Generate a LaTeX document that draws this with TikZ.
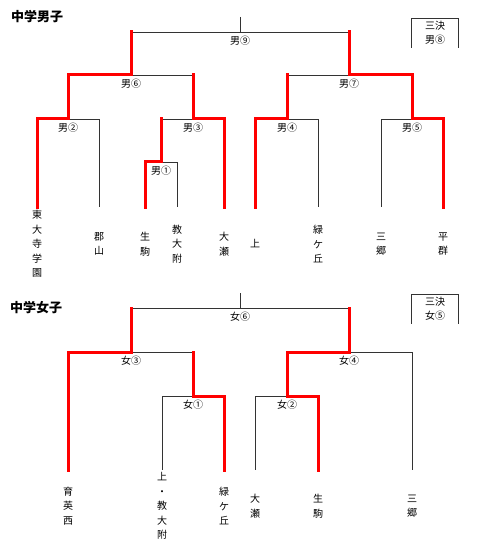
\documentclass[tikz,border=0pt]{standalone}
\usepackage{fontspec}
\setmainfont{Noto Sans CJK JP}
\usetikzlibrary{positioning}
\definecolor{winred}{HTML}{FF0000}
\definecolor{bracketgray}{HTML}{333333}

\begin{document}
\begin{tikzpicture}[x=1pt, y=-1pt,
    win/.style={draw=winred, line width=3pt, line cap=rect},
    lose/.style={draw=bracketgray, line width=0.9pt},
    lbl/.style={inner sep=0pt, font=\fontsize{10}{12}\selectfont},
    team/.style={inner sep=0pt, align=center, font=\fontsize{10}{14.5}\selectfont},
    heading/.style={anchor=west, inner sep=0pt, font=\bfseries\fontsize{13}{15}\selectfont},
    thirdbox/.style={inner sep=0pt, minimum width=46pt, minimum height=29pt, align=center, font=\fontsize{10}{14}\selectfont}]
  \useasboundingbox (0,0) rectangle (480,548);

  % ---------------- boys ----------------
  \node[heading] (tboys) at (11,17) {中学男子};

  \coordinate (b9top) at (240,17);
  \coordinate (b9) at (240,32);
  \coordinate (b6) at (131,75);
  \coordinate (b7) at (349,75);
  \coordinate (b2) at (68,119);
  \coordinate (b3) at (193,119);
  \coordinate (b4) at (287,119);
  \coordinate (b5) at (412,119);
  \coordinate (b1) at (161,162);

  \coordinate (btodai) at (37,207);
  \coordinate (bkori) at (99,207);
  \coordinate (bikoma) at (145,207);
  \coordinate (bkyo) at (177,207);
  \coordinate (boose) at (224,207);
  \coordinate (bue) at (255,207);
  \coordinate (bmido) at (318,207);
  \coordinate (bsato) at (381,207);
  \coordinate (bheg) at (443,207);

  % black arms
  \draw[lose] (b9top) -- (b9);
  \draw[lose] (b9) -- (b9 -| b6);
  \draw[lose] (b9) -- (b9 -| b7);
  \draw[lose] (b6) -- (b6 -| b3);
  \draw[lose] (b7) -- (b7 -| b4);
  \draw[lose] (b2) -| (bkori);
  \draw[lose] (b3) -- (b3 -| b1);
  \draw[lose] (b1) -| (bkyo);
  \draw[lose] (b4) -| (bmido);
  \draw[lose] (b5) -| (bsato);

  % red arms
  \draw[win] (b9 -| b6) -- (b6);
  \draw[win] (b9 -| b7) -- (b7);
  \draw[win] (b6) -| (b2);
  \draw[win] (b6 -| b3) -- (b3);
  \draw[win] (b7 -| b4) -- (b4);
  \draw[win] (b7) -| (b5);
  \draw[win] (b2) -| (btodai);
  \draw[win] (b3 -| b1) -- (b1);
  \draw[win] (b3) -| (boose);
  \draw[win] (b1) -| (bikoma);
  \draw[win] (b4) -| (bue);
  \draw[win] (b5) -| (bheg);

  \node[lbl, below=4pt of b9] (lb9) {男⑨};
  \node[lbl, below=4pt of b6] (lb6) {男⑥};
  \node[lbl, below=4pt of b7] (lb7) {男⑦};
  \node[lbl, below=4pt of b2] (lb2) {男②};
  \node[lbl, below=4pt of b3] (lb3) {男③};
  \node[lbl, below=4pt of b4] (lb4) {男④};
  \node[lbl, below=4pt of b5] (lb5) {男⑤};
  \node[lbl, below=4pt of b1] (lb1) {男①};

  \node[thirdbox] (k8) at (435,33) {三決\\男⑧};
  \draw[lose] (k8.south west) |- (k8.north) -| (k8.south east);

  \node[team] (ntodai) at (37,244) {東\\大\\寺\\学\\園};
  \node[team] (nkori) at (99,244) {郡\\山};
  \node[team] (nikoma) at (145,244) {生\\駒};
  \node[team] (nkyo) at (177,244) {教\\大\\附};
  \node[team] (noose) at (224,244) {大\\瀬};
  \node[team] (nue) at (255,244) {上};
  \node[team] (nmido) at (318,244) {緑\\ケ\\丘};
  \node[team] (nsato) at (381,244) {三\\郷};
  \node[team] (nheg) at (443,244) {平\\群};

  % ---------------- girls ----------------
  \node[heading] (tgirls) at (10,308) {中学女子};

  \coordinate (g6top) at (240,293);
  \coordinate (g6) at (240,308);
  \coordinate (g3) at (131,352);
  \coordinate (g4) at (349,352);
  \coordinate (g1) at (193,396);
  \coordinate (g2) at (287,396);

  \coordinate (gikuei) at (68,470);
  \coordinate (guekyo) at (162,470);
  \coordinate (gmido) at (224,470);
  \coordinate (goose) at (255,470);
  \coordinate (gikoma) at (318,470);
  \coordinate (gsato) at (412,470);

  % black arms
  \draw[lose] (g6top) -- (g6);
  \draw[lose] (g6) -- (g6 -| g3);
  \draw[lose] (g6) -- (g6 -| g4);
  \draw[lose] (g3) -- (g3 -| g1);
  \draw[lose] (g4) -| (gsato);
  \draw[lose] (g1) -| (guekyo);
  \draw[lose] (g2) -| (goose);

  % red arms
  \draw[win] (g6 -| g3) -- (g3);
  \draw[win] (g6 -| g4) -- (g4);
  \draw[win] (g3) -| (gikuei);
  \draw[win] (g3 -| g1) -- (g1);
  \draw[win] (g4) -| (g2);
  \draw[win] (g1) -| (gmido);
  \draw[win] (g2) -| (gikoma);

  \node[lbl, below=4pt of g6] (lg6) {女⑥};
  \node[lbl, below=4pt of g3] (lg3) {女③};
  \node[lbl, below=4pt of g4] (lg4) {女④};
  \node[lbl, below=4pt of g1] (lg1) {女①};
  \node[lbl, below=4pt of g2] (lg2) {女②};

  \node[thirdbox] (k5) at (435,309) {三決\\女⑤};
  \draw[lose] (k5.south west) |- (k5.north) -| (k5.south east);

  \node[team] (nikuei) at (68,506) {育\\英\\西};
  \node[team] (nuekyo) at (162,506) {上\\・\\教\\大\\附};
  \node[team] (nmido2) at (224,506) {緑\\ケ\\丘};
  \node[team] (noose2) at (255,506) {大\\瀬};
  \node[team] (nikoma2) at (318,506) {生\\駒};
  \node[team] (nsato2) at (412,506) {三\\郷};
\end{tikzpicture}
\end{document}
